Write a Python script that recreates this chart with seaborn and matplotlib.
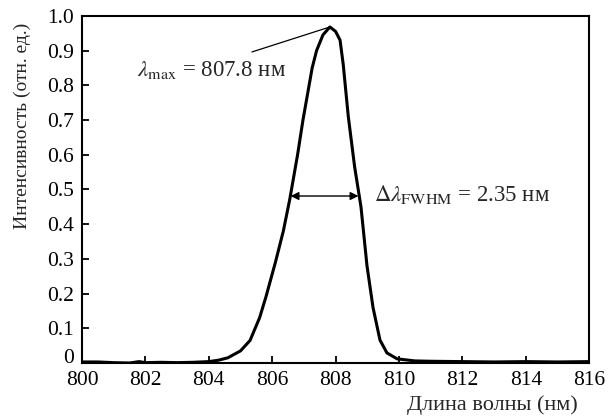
import matplotlib
matplotlib.use("Agg")
import matplotlib.pyplot as plt
import seaborn as sns
import pandas as pd
from matplotlib.ticker import FuncFormatter, MultipleLocator

wavelength = [800.0, 800.5, 801.0, 801.5, 801.8, 802.0, 802.5, 803.0, 803.5, 804.0,
              804.3, 804.6, 805.0, 805.3, 805.6, 805.8, 806.1, 806.35, 806.55, 806.8,
              806.97, 807.26, 807.4, 807.6, 807.82, 808.0, 808.14, 808.24, 808.4, 808.6,
              808.8, 808.99, 809.18, 809.4, 809.62, 809.94, 810.5, 811.0, 812.0, 813.0,
              814.0, 815.0, 816.0]
intensity = [0.003, 0.003, 0.001, 0.0, 0.004, 0.001, 0.002, 0.001, 0.002, 0.004,
             0.008, 0.015, 0.035, 0.065, 0.13, 0.19, 0.29, 0.38, 0.47, 0.60,
             0.70, 0.85, 0.90, 0.945, 0.968, 0.955, 0.93, 0.86, 0.71, 0.565,
             0.45, 0.28, 0.16, 0.066, 0.029, 0.012, 0.006, 0.005, 0.004, 0.003,
             0.004, 0.003, 0.004]

peak_x, peak_y = 807.82, 0.968
fwhm_left, fwhm_right, fwhm_y = 806.58, 808.72, 0.481

sns.set_style("ticks")
plt.rcParams["font.family"] = ["Liberation Serif", "DejaVu Serif"]
plt.rcParams["mathtext.fontset"] = "stix"

df = pd.DataFrame({"x": wavelength, "y": intensity})

fig = plt.figure(figsize=(6.08, 4.17), dpi=100)
ax = fig.add_axes([0.135, 0.1295, 0.834, 0.8325])
sns.lineplot(data=df, x="x", y="y", ax=ax, color="black", linewidth=2.2)

ax.set_xlim(800, 816)
ax.set_ylim(0, 1.0)
ax.xaxis.set_major_locator(MultipleLocator(2))
ax.yaxis.set_major_locator(MultipleLocator(0.1))
ax.yaxis.set_major_formatter(FuncFormatter(lambda v, p: "0" if abs(v) < 1e-9 else f"{v:.1f}"))
ax.tick_params(direction="in", length=5, width=1.3, labelsize=15.5, colors="black")
ax.tick_params(axis="x", pad=6)
ax.tick_params(axis="y", pad=6)
for s in ax.spines.values():
    s.set_linewidth(1.5)
    s.set_color("black")

# lift the "0" y tick label slightly, as in the reference
fig.canvas.draw()
for tick in ax.yaxis.get_major_ticks():
    if abs(tick.get_loc()) < 1e-9:
        tick.label1.set_verticalalignment("baseline")

ax.set_xlabel("Длина волны (нм)", fontsize=16)
ax.xaxis.label.set_ha("right")
ax.xaxis.label.set_va("center")
ax.xaxis.set_label_coords(0.978, -0.121)

ax.set_ylabel("Интенсивность (отн. ед.)", fontsize=14, loc="top")
ax.yaxis.label.set_va("center")
ax.yaxis.set_label_coords(-0.118, 0.98)

ax.annotate("", xy=(peak_x, peak_y), xytext=(805.36, 0.896),
            arrowprops=dict(arrowstyle="-", color="black", lw=0.9, shrinkA=0, shrinkB=0))
ax.text(801.74, 0.844, r"$\lambda_{\rm max}$ = 807.8 нм", fontsize=16.5, va="center", ha="left")

ax.annotate("", xy=(fwhm_left, fwhm_y), xytext=(fwhm_right, fwhm_y),
            arrowprops=dict(arrowstyle="<|-|>", color="black", lw=1.0,
                            mutation_scale=12, shrinkA=0, shrinkB=0))
ax.text(809.2, 0.484, r"$\Delta\lambda_{\rm FWHM}$ = 2.35 нм", fontsize=16.5, va="center", ha="left")

fig.savefig("out.png", dpi=100)
